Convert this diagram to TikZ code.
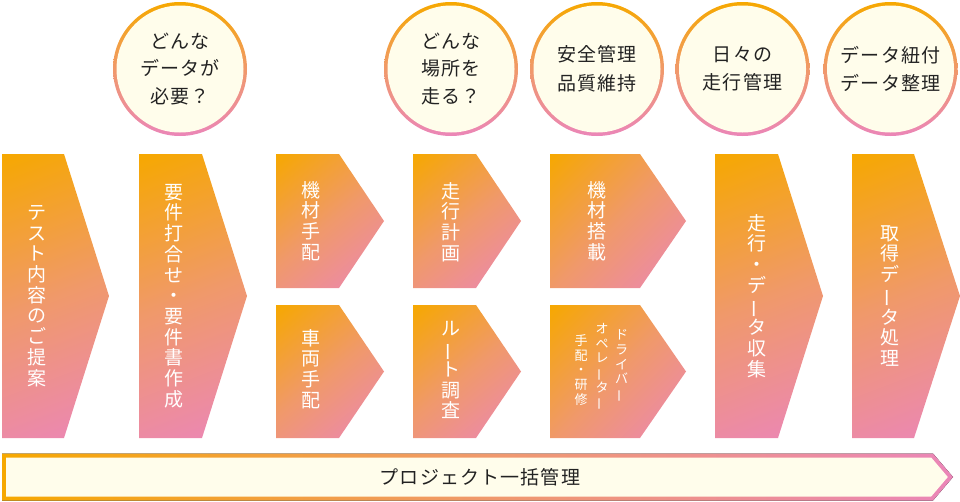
\documentclass[tikz,border=0pt]{standalone}
\usepackage{fontspec}
\usepackage{graphicx}
\setmainfont{Noto Sans CJK JP}
\newfontfamily\jpfont{Noto Sans CJK JP}
\newfontfamily\jpls[LetterSpace=6]{Noto Sans CJK JP}
\definecolor{cO}{HTML}{F6A800}
\definecolor{cM}{HTML}{F0996A}
\definecolor{cP}{HTML}{EB86B8}
\definecolor{cream}{HTML}{FFFDEB}
\definecolor{ink}{HTML}{222222}
\newcommand\vb{\rotatebox[origin=c]{90}{ー}}
\newcommand\gradshape[5]{%
  \pgfmathsetmacro\gw{#4-#2}%
  \pgfmathsetmacro\gh{#5-#3}%
  \pgfmathsetmacro\gL{\gh*sqrt(1+(\gw/\gh)*(\gw/\gh))}%
  \pgfmathsetmacro\gA{atan(\gw/\gh)}%
  \pgfmathsetmacro\gcx{(#2+#4)/2}%
  \pgfmathsetmacro\gcy{(#3+#5)/2}%
  \begin{scope}
    \clip #1;
    \begin{scope}[transform canvas={rotate around={\gA:(\gcx,\gcy)}}]
      \shade[gradfill] (\gcx-\gL/2,\gcy-\gL/2) rectangle (\gcx+\gL/2,\gcy+\gL/2);
    \end{scope}
  \end{scope}}
\newcommand\bigarrow[3]{%
  \gradshape{(#1,154) -- (#2,154) -- (#3,296) -- (#2,438) -- (#1,438) -- cycle}{#1}{154}{#3}{438}}
\newcommand\smallarrow[6]{%
  \gradshape{(#1,#4) -- (#2,#4) -- (#3,#6) -- (#2,#5) -- (#1,#5) -- cycle}{#1}{#4}{#3}{#5}}
\newcommand\ringcircle[1]{%
  \gradshape{(#1,69) circle (67pt)}{#1-67}{2}{#1+67}{136}%
  \fill[cream] (#1,69) circle (63.5pt);}
\tikzset{
  gradfill/.style={top color=cO, bottom color=cP, middle color=cM},
  vlabel/.style={text=white, inner sep=0pt, align=center, font=\jpfont\fontsize{19}{20.7}\selectfont},
  vsmall/.style={text=white, inner sep=0pt, align=center, font=\jpfont\fontsize{13}{14.6}\selectfont},
  clabel/.style={text=ink, inner sep=0pt, align=center, font=\jpls\fontsize{19}{27.5}\selectfont},
  clabeltwo/.style={clabel, font=\jpls\fontsize{19}{28.5}\selectfont},
  barlabel/.style={text=ink, inner sep=0pt, font=\jpls\fontsize{19}{22}\selectfont},
}
\begin{document}
\begin{tikzpicture}[x=1pt,y=-1pt]
\useasboundingbox (0,0) rectangle (960,501);
% circles
\ringcircle{180}
\ringcircle{451}
\ringcircle{597}
\ringcircle{742.5}
\ringcircle{890.5}
\node[clabel] (q1) at (180,69) {どんな\\データが\\必要？};
\node[clabel] (q2) at (451,69) {どんな\\場所を\\走る？};
\node[clabeltwo] (q3) at (597,69) {安全管理\\品質維持};
\node[clabeltwo] (q4) at (742.5,69) {日々の\\走行管理};
\node[clabeltwo] (q5) at (890.5,69) {データ紐付\\データ整理};
% big arrows
\bigarrow{2}{64}{109}
\bigarrow{139}{202}{247}
\bigarrow{715}{778}{823}
\bigarrow{852}{914}{960}
% small arrows
\smallarrow{276}{339}{384}{154}{288}{221}
\smallarrow{276}{339}{384}{305}{438}{371.5}
\smallarrow{413}{476}{521}{154}{288}{221}
\smallarrow{413}{476}{521}{305}{438}{371.5}
\smallarrow{550}{640}{686}{154}{288}{221}
\smallarrow{550}{640}{686}{305}{438}{371.5}
% labels
\node[vlabel] (s1) at (37,296) {テ\\ス\\ト\\内\\容\\の\\ご\\提\\案};
\node[vlabel] (s2) at (174,296) {要\\件\\打\\合\\せ\\・\\要\\件\\書\\作\\成};
\node[vlabel] (s3a) at (311,221) {機\\材\\手\\配};
\node[vlabel] (s3b) at (311,369) {車\\両\\手\\配};
\node[vlabel] (s4a) at (451,222) {走\\行\\計\\画};
\node[vlabel] (s4b) at (451,370) {ル\\\vb\\ト\\調\\査};
\node[vlabel] (s5a) at (597,221) {機\\材\\搭\\載};
\node[vsmall] (s5b1) at (621.5,366) {ド\\ラ\\イ\\バ\\\vb};
\node[vsmall] (s5b2) at (602,367) {オ\\ペ\\レ\\\vb\\タ\\\vb};
\node[vsmall] (s5b3) at (581,370) {手\\配\\・\\研\\修};
\node[vlabel] (s6) at (757,296) {走\\行\\・\\デ\\\vb\\タ\\収\\集};
\node[vlabel] (s7) at (890,296) {取\\得\\デ\\\vb\\タ\\処\\理};
% bottom bar
\fill[left color=cO, right color=cP, middle color=cM] (2,453.5) -- (933,453.5) -- (953,477) -- (933,500.5) -- (2,500.5) -- cycle;
\fill[cream] (6,457.5) -- (931.2,457.5) -- (947.8,477) -- (931.2,496.5) -- (6,496.5) -- cycle;
\node[barlabel] (bar) at (480,477) {プロジェクト一括管理};
\end{tikzpicture}
\end{document}
